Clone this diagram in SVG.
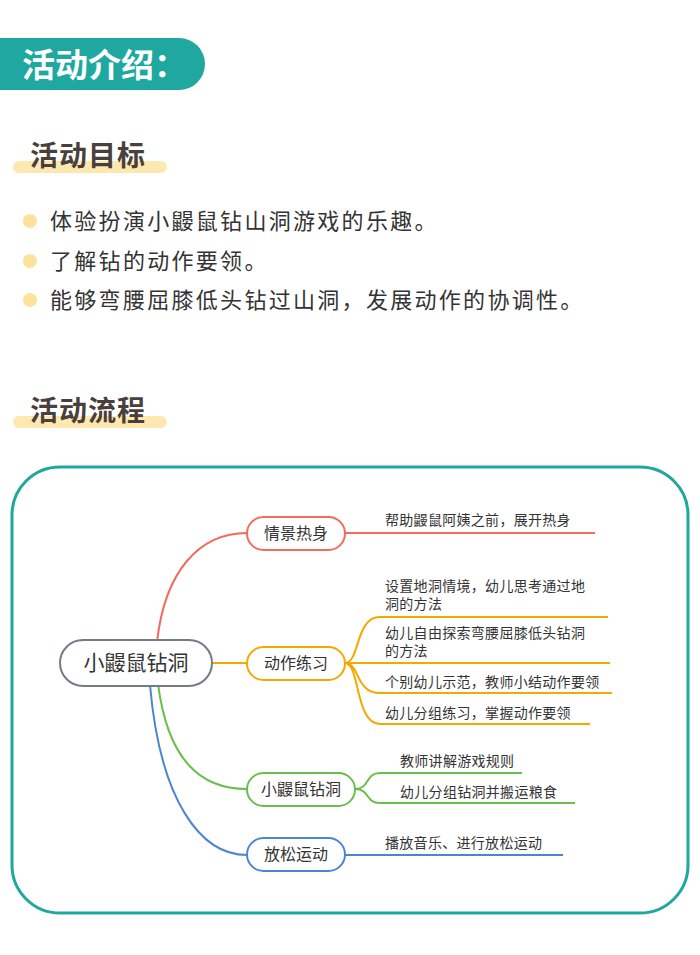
<svg xmlns="http://www.w3.org/2000/svg" width="700" height="955" viewBox="0 0 700 955">
<style>
.h{font-family:"Noto Sans CJK SC",sans-serif;font-weight:bold;fill:#4a3f3a;font-size:28px;letter-spacing:1px}
.b{font-family:"Noto Sans CJK SC",sans-serif;fill:#333;font-size:22px;letter-spacing:2.3px}
.t{font-family:"Noto Sans CJK SC",sans-serif;fill:#333;font-size:14px;letter-spacing:0.3px}
.n{font-family:"Noto Sans CJK SC",sans-serif;fill:#333;font-size:16px;text-anchor:middle}
.l{fill:none;stroke-width:2}
.node{fill:#fff;stroke-width:2}
</style>
<rect width="700" height="955" fill="#fff"/>
<path d="M0 38 H179 A26 26 0 0 1 179 90 H0 Z" fill="#1fa89f"/>
<text x="22" y="77" font-family="Noto Sans CJK SC,sans-serif" font-weight="bold" font-size="33" fill="#fff">活动介绍：</text>
<rect x="13" y="161" width="154" height="12" rx="6" fill="#fde9b0"/>
<text class="h" x="30" y="166">活动目标</text>
<g fill="#fde29a"><circle cx="30" cy="221" r="7"/><circle cx="30" cy="261" r="7"/><circle cx="30" cy="300" r="7"/></g>
<text class="b" x="50" y="229">体验扮演小鼹鼠钻山洞游戏的乐趣。</text>
<text class="b" x="50" y="269">了解钻的动作要领。</text>
<text class="b" x="50" y="308">能够弯腰屈膝低头钻过山洞，发展动作的协调性。</text>
<rect x="13" y="416" width="154" height="12" rx="6" fill="#fde9b0"/>
<text class="h" x="30" y="421">活动流程</text>
<rect x="12" y="467" width="676" height="446" rx="48" fill="none" stroke="#1fa89f" stroke-width="3"/>
<g id="connectors">
<path class="l" stroke="#f26b5b" stroke-width="4" d="M157 642 C165 570 200 533 247 533"/>
<path class="l" stroke="#f5a800" stroke-width="4" d="M212 663 H247"/>
<path class="l" stroke="#6abf4b" stroke-width="4" d="M158 684 C168 760 200 789 247 789"/>
<path class="l" stroke="#4a86d0" stroke-width="4" d="M150 685 C160 800 200 855 247 855"/>
<path class="l" stroke="#f26b5b" d="M345 533 H595"/>
<path class="l" stroke="#f5a800" d="M345 663 C360 663 355 617 380 617 H608 M345 663 H610 M345 663 C360 663 355 693 380 693 H612 M345 663 C360 663 355 724 380 724 H590"/>
<path class="l" stroke="#6abf4b" d="M355 789 C370 789 365 773 380 773 H522 M355 789 C370 789 365 803 380 803 H575"/>
<path class="l" stroke="#4a86d0" d="M345 855 H563"/>
</g>
<g id="center"><rect class="node" x="60" y="640" width="152" height="46" rx="23" stroke="#737b8a"/><text x="136" y="670" font-family="Noto Sans CJK SC,sans-serif" font-size="21" fill="#333" text-anchor="middle">小鼹鼠钻洞</text></g>
<g id="n1"><rect class="node" x="247" y="517" width="98" height="33" rx="16.5" stroke="#f26b5b"/><text class="n" x="296" y="539">情景热身</text></g>
<g id="n2"><rect class="node" x="247" y="647" width="98" height="33" rx="16.5" stroke="#f5a800"/><text class="n" x="296" y="669">动作练习</text></g>
<g id="n3"><rect class="node" x="247" y="773" width="108" height="33" rx="16.5" stroke="#6abf4b"/><text class="n" x="301" y="795">小鼹鼠钻洞</text></g>
<g id="n4"><rect class="node" x="247" y="838" width="98" height="33" rx="16.5" stroke="#4a86d0"/><text class="n" x="296" y="860">放松运动</text></g>
<g id="leaves">
<text class="t" x="385" y="591">设置地洞情境，幼儿思考通过地</text>
<text class="t" x="385" y="609">洞的方法</text>
<text class="t" x="385" y="638">幼儿自由探索弯腰屈膝低头钻洞</text>
<text class="t" x="385" y="656">的方法</text>
<text class="t" x="385" y="525">帮助鼹鼠阿姨之前，展开热身</text>
<text class="t" x="385" y="687">个别幼儿示范，教师小结动作要领</text>
<text class="t" x="385" y="718">幼儿分组练习，掌握动作要领</text>
<text class="t" x="400" y="766">教师讲解游戏规则</text>
<text class="t" x="400" y="797">幼儿分组钻洞并搬运粮食</text>
<text class="t" x="385" y="848">播放音乐、进行放松运动</text>
</g>
</svg>
